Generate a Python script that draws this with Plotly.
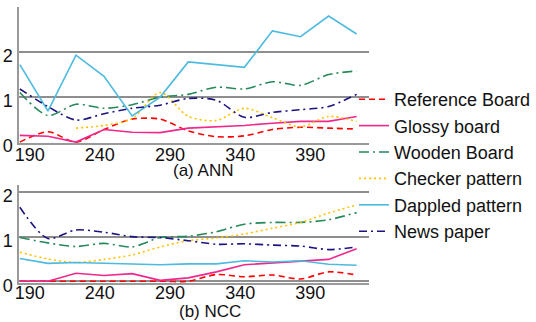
import plotly.graph_objects as go

# x positions of the samples
x_vals = [183, 203, 223, 243, 263, 283, 303, 323, 343, 363, 383, 403, 423]
x_tick_vals = [190, 240, 290, 340, 390]
x_tick_text = ["190", "240", "290", "340", "390"]

series_names = ["Reference Board", "Glossy board", "Wooden Board",
                "Checker pattern", "Dappled pattern", "News paper"]

# (a) ANN
ann_reference = [0.0, 0.23, 0.0, 0.28, 0.51, 0.51, 0.25, 0.12, 0.14, 0.28, 0.33, 0.31, 0.29]
ann_glossy = [0.15, 0.13, 0.0, 0.28, 0.22, 0.21, 0.31, 0.34, 0.37, 0.42, 0.46, 0.46, 0.57]
ann_wooden = [1.10, 0.59, 0.84, 0.75, 0.83, 1.00, 1.06, 1.22, 1.18, 1.34, 1.26, 1.50, 1.58]
ann_checker = [None, None, 0.31, 0.37, 0.52, 1.10, 0.57, 0.48, 0.75, 0.54, 0.34, 0.57, 0.46]
ann_dappled = [1.72, 0.69, 1.93, 1.46, 0.58, 1.00, 1.78, 1.72, 1.66, 2.47, 2.34, 2.80, 2.40]
ann_news = [1.18, 0.79, 0.49, 0.63, 0.75, 0.82, 0.97, 0.93, 0.55, 0.66, 0.72, 0.79, 1.06]

# (b) NCC
ncc_reference = [0.0, 0.0, 0.0, 0.0, 0.0, 0.0, 0.0, 0.15, 0.10, 0.14, 0.05, 0.21, 0.14]
ncc_glossy = [0.0, 0.0, 0.18, 0.13, 0.17, 0.02, 0.075, 0.21, 0.37, 0.41, 0.46, 0.49, 0.73]
ncc_wooden = [0.98, 0.86, 0.78, 0.85, 0.77, 0.98, 1.01, 1.11, 1.28, 1.32, 1.32, 1.38, 1.54]
ncc_checker = [0.65, 0.50, 0.42, 0.49, 0.59, 0.77, 0.91, 0.97, 1.06, 1.19, 1.32, 1.53, 1.71]
ncc_dappled = [0.51, 0.40, 0.42, 0.40, 0.38, 0.37, 0.39, 0.39, 0.46, 0.43, 0.46, 0.38, 0.36]
ncc_news = [1.66, 0.96, 1.15, 1.10, 1.00, 0.98, 0.91, 0.83, 0.84, 0.81, 0.79, 0.71, 0.77]

colors = ["#FF0000", "#F0288C", "#25895A", "#FFC000", "#4DBADF", "#1C1480"]
dashes = ["6px,4px", "solid", "10px,4px,2px,4px", "2px,3px", "solid", "8px,4px,2px,4px"]
shapes = ["spline", "linear", "spline", "spline", "linear", "spline"]

ann = [ann_reference, ann_glossy, ann_wooden, ann_checker, ann_dappled, ann_news]
ncc = [ncc_reference, ncc_glossy, ncc_wooden, ncc_checker, ncc_dappled, ncc_news]

FONT = "Liberation Sans, Arial, sans-serif"

fig = go.Figure()
for i, name in enumerate(series_names):
    fig.add_trace(go.Scatter(x=x_vals, y=ann[i], name=name, mode="lines",
                             line=dict(color=colors[i], width=1.6, dash=dashes[i],
                                       shape=shapes[i], smoothing=0.8),
                             xaxis="x", yaxis="y", showlegend=True))
for i, name in enumerate(series_names):
    fig.add_trace(go.Scatter(x=x_vals, y=ncc[i], name=name, mode="lines",
                             line=dict(color=colors[i], width=1.6, dash=dashes[i],
                                       shape=shapes[i], smoothing=0.8),
                             xaxis="x2", yaxis="y2", showlegend=False))

W, H = 536, 322
L, R = 19, 167
PW = W - L - R

def ydom(top_px, bot_px):
    return [1 - bot_px / H, 1 - top_px / H]

grid = "#8E8E8E"
axis_common = dict(showline=True, linecolor="#9A9A9A", linewidth=1.5, zeroline=False,
                   automargin=False,
                   tickfont=dict(family=FONT, size=18, color="#111111"))

xaxis_common = dict(axis_common, range=[182.4, 431.8], tickmode="array",
                    tickvals=x_tick_vals, ticktext=x_tick_text, ticks="",
                    showgrid=False)

fig.update_layout(
    width=W, height=H,
    margin=dict(l=L, r=R, t=0, b=0, autoexpand=False),
    paper_bgcolor="white", plot_bgcolor="white",
    font=dict(family=FONT, size=18, color="#111111"),
    xaxis=dict(xaxis_common, domain=[0, 1], anchor="y", ticklabelstandoff=-5),
    xaxis2=dict(xaxis_common, domain=[0, 1], anchor="y2", ticklabelstandoff=-7),
    yaxis=dict(axis_common, domain=ydom(7, 143), range=[-0.02, 3.0], anchor="x",
               tickmode="array", tickvals=[0, 1, 2, 3], ticktext=["0", "1", "2", ""],
               showgrid=True, gridcolor=grid, gridwidth=1.5, ticks="",
               ticklabelshift=4, ticklabelstandoff=1),
    yaxis2=dict(axis_common, domain=ydom(185, 283), range=[-0.04, 2.16], anchor="x2",
                tickmode="array", tickvals=[0, 1, 2], ticktext=["0", "1", "2"],
                showgrid=True, gridcolor=grid, gridwidth=1.5, ticks="",
                ticklabelshift=4, ticklabelstandoff=1),
    legend=dict(x=(354 - L) / PW, xanchor="left",
                y=1 - 81 / H, yanchor="top",
                bgcolor="rgba(0,0,0,0)", borderwidth=0,
                font=dict(family=FONT, size=18, color="#111111"),
                itemwidth=30, tracegroupgap=0),
    annotations=[
        dict(text="(a) ANN", x=(203 - L) / PW, y=1 - 170 / H,
             xref="paper", yref="paper", showarrow=False,
             xanchor="center", yanchor="middle",
             font=dict(family=FONT, size=17, color="#111111")),
        dict(text="(b) NCC", x=(210 - L) / PW, y=1 - 311 / H,
             xref="paper", yref="paper", showarrow=False,
             xanchor="center", yanchor="middle",
             font=dict(family=FONT, size=17, color="#111111")),
    ],
)

fig.write_html("out.html")
